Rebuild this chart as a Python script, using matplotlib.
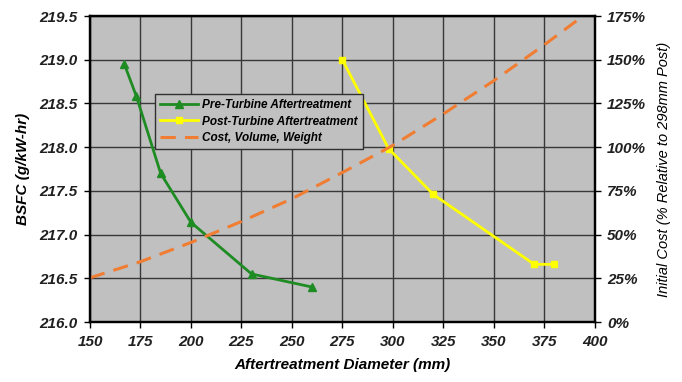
import numpy as np
import matplotlib
matplotlib.use('Agg')
import matplotlib.pyplot as plt
from matplotlib.ticker import FuncFormatter, MultipleLocator

plt.rcParams['font.family'] = ['Liberation Sans', 'DejaVu Sans']

# BSFC vs aftertreatment diameter
pre_diam = [167, 173, 185, 200, 230, 260]
pre_bsfc = [218.95, 218.58, 217.70, 217.14, 216.55, 216.40]

post_diam = [275, 298, 320, 370, 380]
post_bsfc = [219.0, 217.98, 217.46, 216.66, 216.66]

# relative cost, volume, weight (fraction of 298mm post-turbine)
cost_diam = [150, 175, 200, 225, 250, 275, 300, 325, 350, 375, 400]
cost_rel = [0.253, 0.345, 0.455, 0.575, 0.705, 0.855, 1.01, 1.19, 1.38, 1.585, 1.80]

GREEN = "#1e8c23"
YELLOW = "#ffff00"
ORANGE = "#f07d32"
PLOT_BG = "#c0c0c0"


def main() -> None:
    fig = plt.figure(figsize=(6.82, 3.82), dpi=100)
    ax = fig.add_axes([0.132, 0.157, 0.740, 0.801])
    ax2 = ax.twinx()

    ax.set_facecolor(PLOT_BG)
    ax.set_zorder(0)
    ax2.set_zorder(1)
    ax2.patch.set_visible(False)

    l1, = ax.plot(pre_diam, pre_bsfc, color=GREEN, lw=2, marker='^', ms=6,
                  label='Pre-Turbine Aftertreatment')
    l2, = ax.plot(post_diam, post_bsfc, color=YELLOW, lw=2, marker='s', ms=5,
                  label='Post-Turbine Aftertreatment')
    l3, = ax2.plot(cost_diam, cost_rel, color=ORANGE, lw=2.2, dashes=(5, 3),
                   label='Cost, Volume, Weight')

    ax.set_xlim(150, 400)
    ax.set_ylim(216.0, 219.5)
    ax2.set_ylim(0, 1.75)
    ax.xaxis.set_major_locator(MultipleLocator(25))
    ax.yaxis.set_major_locator(MultipleLocator(0.5))
    ax2.yaxis.set_major_locator(MultipleLocator(0.25))
    ax.yaxis.set_major_formatter(FuncFormatter(lambda v, p: f"{v:.1f}"))
    ax2.yaxis.set_major_formatter(FuncFormatter(lambda v, p: f"{v * 100:.0f}%"))

    ax.grid(True, color="#383838", lw=1.0)
    ax.set_axisbelow(True)

    for a in (ax, ax2):
        for s in a.spines.values():
            s.set_linewidth(1.6)
            s.set_color('black')
        a.tick_params(direction='out', length=4, width=1, colors='black', pad=5)
    for lab in ax.get_xticklabels() + ax.get_yticklabels() + ax2.get_yticklabels():
        lab.set_fontsize(11)
        lab.set_fontweight('bold')
        lab.set_fontstyle('italic')
        lab.set_color('#202020')

    ax.set_xlabel("Aftertreatment Diameter (mm)", fontsize=11, fontweight='bold',
                  fontstyle='italic', labelpad=7)
    ax.set_ylabel("BSFC (g/kW-hr)", fontsize=11, fontweight='bold',
                  fontstyle='italic', labelpad=7)
    ax2.set_ylabel("Initial Cost (% Relative to 298mm Post)", fontsize=10.5,
                   fontstyle='italic', labelpad=8)

    leg = ax2.legend(handles=[l1, l2, l3], loc='upper left',
                     bbox_to_anchor=(0.128, 0.745), borderaxespad=0,
                     frameon=True, fancybox=False, framealpha=1,
                     facecolor=PLOT_BG, edgecolor='#303030', handlelength=3.2,
                     labelspacing=0.35, borderpad=0.45, handletextpad=0.4,
                     prop=dict(size=8.5, weight='bold', style='italic'))
    leg.get_frame().set_linewidth(1.0)

    fig.savefig("out.png", dpi=100)


if __name__ == "__main__":
    main()
